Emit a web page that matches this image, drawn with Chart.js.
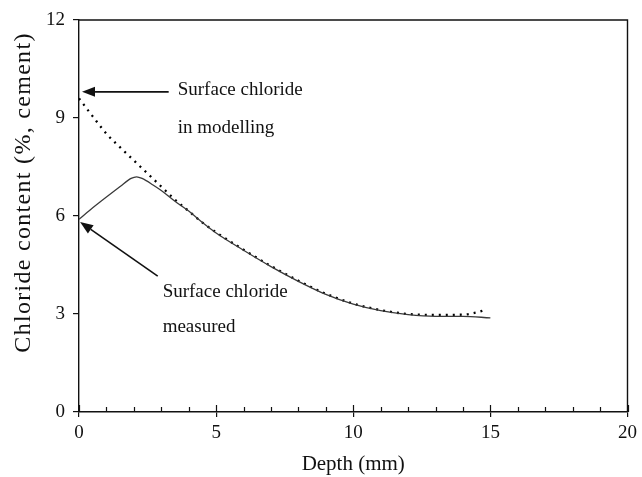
<!DOCTYPE html>
<html>
<head>
<meta charset="utf-8">
<script src="https://cdn.jsdelivr.net/npm/chart.js@4"></script>
<style>
  html, body { margin: 0; padding: 0; background: #fff; }
  #wrap { width: 642px; height: 477px; }
</style>
</head>
<body>
<div id="wrap"><canvas id="chlorideChart" width="642" height="477"></canvas></div>
<script>
// depth (mm) and chloride content (% of cement)
const measuredDepth = [0, 0.5, 1, 1.5, 1.9, 2.1, 2.3, 2.7, 3, 3.5, 4, 4.5, 5, 6, 7, 8, 9, 10, 11, 12, 13, 14, 15]
const measuredChloride = [5.9, 6.25, 6.58, 6.9, 7.15, 7.2, 7.15, 6.95, 6.78, 6.45, 6.15, 5.8, 5.48, 4.95, 4.45, 4.0, 3.6, 3.3, 3.1, 2.98, 2.93, 2.93, 2.88]

const modelDepth = [0, 0.5, 1, 1.5, 2, 2.5, 3, 3.5, 4, 4.5, 5, 6, 7, 8, 9, 10, 11, 12, 13, 14, 14.5, 14.8]
const modelChloride = [9.6, 9.05, 8.52, 8.1, 7.7, 7.3, 6.9, 6.5, 6.15, 5.8, 5.5, 4.97, 4.47, 4.02, 3.62, 3.32, 3.12, 3.0, 2.97, 2.98, 3.05, 3.12]

const yTicks = [0, 3, 6, 9, 12]
const xMajorTicks = [0, 5, 10, 15, 20]
const yTitle = 'Chloride content (%, cement)'

// annotation arrows / labels in data units
const notes = [
  { head: [0.11, 9.8], tail: [3.27, 9.8], at: [3.6, 9.7], lines: ['Surface chloride', 'in modelling'], gap: 38 },
  { head: [0.04, 5.82], tail: [2.87, 4.16], at: [3.05, 3.52], lines: ['Surface chloride', 'measured'], gap: 35 },
]

const serif = '"Liberation Serif", "Times New Roman", serif'

const toPoints = (xs, ys) => xs.map((x, i) => ({ x: x, y: ys[i] }))

// frame, minor x ticks, y title and the arrow annotations
const extrasPlugin = {
  id: 'extras',
  afterDraw(chart) {
    const { ctx, chartArea: a, scales: { x, y } } = chart
    ctx.save()
    ctx.strokeStyle = '#111'
    ctx.lineWidth = 1.4
    ctx.beginPath()
    ctx.moveTo(a.left, a.top); ctx.lineTo(a.right, a.top); ctx.lineTo(a.right, a.bottom)
    ctx.stroke()

    // x ticks every 1 mm pointing up into the plot
    ctx.lineWidth = 1.2
    for (let v = 0; v <= 20; v++) {
      const px = Math.round(x.getPixelForValue(v)) + 0.5
      const len = v % 5 === 0 ? 7 : 5
      ctx.beginPath()
      ctx.moveTo(px, a.bottom); ctx.lineTo(px, a.bottom - len)
      ctx.stroke()
    }

    ctx.fillStyle = '#111'

    // y title, a little above the axis middle like the original
    ctx.save()
    ctx.translate(24, a.top + (a.bottom - a.top) * 0.44)
    ctx.rotate(-Math.PI / 2)
    ctx.font = '24px ' + serif
    ctx.letterSpacing = '1.3px'
    ctx.textAlign = 'center'
    ctx.textBaseline = 'middle'
    ctx.fillText(yTitle, 0, 0)
    ctx.restore()

    ctx.font = '19px ' + serif
    ctx.textBaseline = 'alphabetic'
    notes.forEach(n => {
      const hx = x.getPixelForValue(n.head[0]), hy = y.getPixelForValue(n.head[1])
      const tx = x.getPixelForValue(n.tail[0]), ty = y.getPixelForValue(n.tail[1])
      const ang = Math.atan2(hy - ty, hx - tx)
      const hl = 13, hw = 5
      const bx = hx - hl * Math.cos(ang), by = hy - hl * Math.sin(ang)
      ctx.lineWidth = 1.6
      ctx.beginPath()
      ctx.moveTo(tx, ty); ctx.lineTo(bx, by)
      ctx.stroke()
      ctx.beginPath()
      ctx.moveTo(hx, hy)
      ctx.lineTo(bx + hw * Math.sin(ang), by - hw * Math.cos(ang))
      ctx.lineTo(bx - hw * Math.sin(ang), by + hw * Math.cos(ang))
      ctx.closePath()
      ctx.fill()

      const lx = x.getPixelForValue(n.at[0]), ly = y.getPixelForValue(n.at[1])
      n.lines.forEach((t, i) => ctx.fillText(t, lx, ly + i * n.gap))
    })
    ctx.restore()
  },
}

const config = {
  type: 'line',
  data: {
    datasets: [
      {
        label: 'Measured',
        data: toPoints(measuredDepth, measuredChloride),
        borderColor: '#3a3a3a',
        borderWidth: 1.3,
        pointRadius: 0,
        cubicInterpolationMode: 'monotone',
      },
      {
        label: 'Modelling',
        data: toPoints(modelDepth, modelChloride),
        borderColor: '#000',
        borderWidth: 2.3,
        borderDash: [2, 5],
        pointRadius: 0,
        cubicInterpolationMode: 'monotone',
      },
    ],
  },
  options: {
    responsive: false,
    animation: false,
    layout: { padding: { top: 20, right: 13, left: 0, bottom: 0 } },
    plugins: { legend: { display: false }, tooltip: { enabled: false } },
    scales: {
      x: {
        type: 'linear',
        min: 0,
        max: 20,
        afterBuildTicks: s => { s.ticks = xMajorTicks.map(v => ({ value: v })) },
        afterFit: s => { s.height = 65 },
        grid: { drawOnChartArea: false, drawTicks: true, tickLength: 5, color: '#111', lineWidth: 1.2 },
        border: { color: '#111', width: 1.4 },
        ticks: { color: '#111', padding: 5, font: { family: serif, size: 19 } },
        title: { display: true, text: 'Depth (mm)', color: '#111', padding: { top: 0, bottom: 0 }, font: { family: serif, size: 21 } },
      },
      y: {
        min: 0,
        max: 12,
        afterBuildTicks: s => { s.ticks = yTicks.map(v => ({ value: v })) },
        afterFit: s => { s.width = 79 },
        grid: { drawOnChartArea: false, drawTicks: true, tickLength: 6, color: '#111', lineWidth: 1.2 },
        border: { color: '#111', width: 1.4 },
        ticks: { color: '#111', padding: 8, font: { family: serif, size: 19 } },
      },
    },
  },
  plugins: [extrasPlugin],
}

const chlorideCtx = document.getElementById('chlorideChart')
window.chlorideChart = new Chart(chlorideCtx, config)
</script>
</body>
</html>
